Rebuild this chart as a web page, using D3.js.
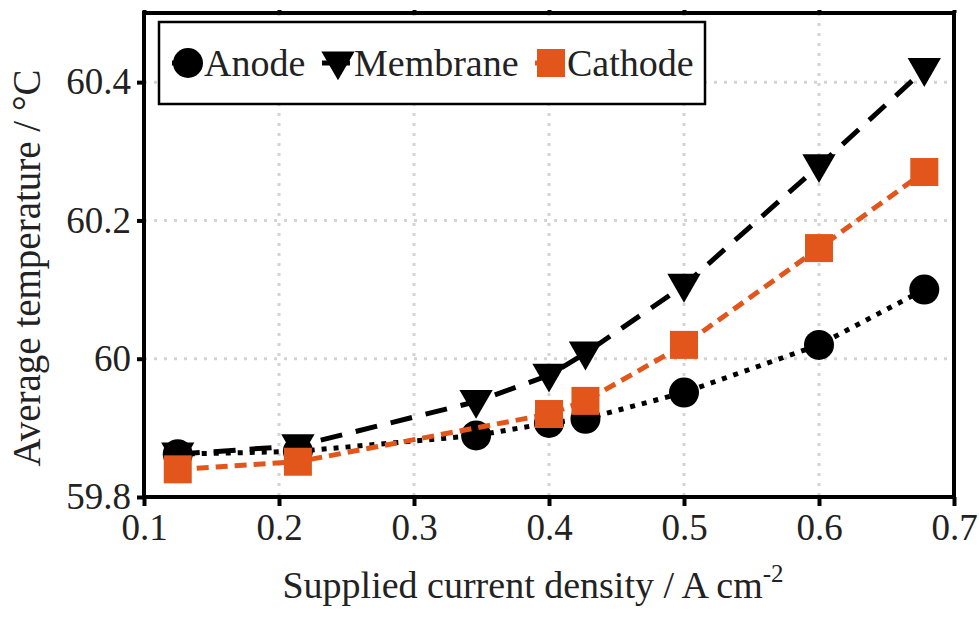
<!DOCTYPE html>
<html>
<head>
<meta charset="utf-8">
<script src="https://cdn.jsdelivr.net/npm/d3@7"></script>
<style>
  body { margin: 0; background: #fff; }
  text { font-family: "Liberation Serif", "Times New Roman", serif; fill: #222; }
</style>
</head>
<body>
<div id="chart"></div>
<script>
// data
var anodeX = [0.125, 0.214, 0.346, 0.400, 0.427, 0.500, 0.600, 0.678];
var anodeY = [59.862, 59.866, 59.889, 59.907, 59.913, 59.951, 60.020, 60.100];
var membraneX = [0.125, 0.214, 0.346, 0.400, 0.427, 0.500, 0.600, 0.678];
var membraneY = [59.862, 59.874, 59.938, 59.976, 60.008, 60.106, 60.279, 60.418];
var cathodeX = [0.125, 0.214, 0.400, 0.427, 0.500, 0.600, 0.678];
var cathodeY = [59.840, 59.851, 59.920, 59.939, 60.020, 60.160, 60.270];
var xTicks = [0.1, 0.2, 0.3, 0.4, 0.5, 0.6, 0.7];
var yTicks = [59.8, 60, 60.2, 60.4];
var orange = "#e2561c";

var width = 979, height = 617;
var plotL = 144, plotR = 954, plotT = 13, plotB = 497;

var svg = d3.select("#chart").append("svg")
    .attr("width", width)
    .attr("height", height);

var x = d3.scaleLinear().domain([0.1, 0.7]).range([plotL, plotR]);
var y = d3.scaleLinear().domain([59.8, 60.5]).range([plotB, plotT]);

// grid
svg.append("g").selectAll("line")
    .data(xTicks.slice(1, -1))
    .enter().append("line")
    .attr("x1", d => x(d)).attr("x2", d => x(d))
    .attr("y1", plotT).attr("y2", plotB)
    .attr("stroke", "#d4d4d4").attr("stroke-width", 3)
    .attr("stroke-dasharray", "3,7");
svg.append("g").selectAll("line")
    .data(yTicks.slice(1))
    .enter().append("line")
    .attr("x1", plotL).attr("x2", plotR)
    .attr("y1", d => y(d)).attr("y2", d => y(d))
    .attr("stroke", "#d4d4d4").attr("stroke-width", 3)
    .attr("stroke-dasharray", "3,7");

// axes
var xAxis = svg.append("g")
    .attr("transform", "translate(0," + plotB + ")")
    .call(d3.axisBottom(x).tickValues(xTicks).tickSize(9).tickPadding(8).tickFormat(d3.format(".1f")));
var yAxis = svg.append("g")
    .attr("transform", "translate(" + plotL + ",0)")
    .call(d3.axisLeft(y).tickValues(yTicks).tickSize(7).tickPadding(6).tickFormat(d => d === 60 ? "60" : d3.format(".1f")(d)));
svg.append("g")
    .attr("transform", "translate(0," + plotT + ")")
    .call(d3.axisTop(x).tickValues(xTicks).tickSize(3).tickFormat(""));
[xAxis, yAxis].forEach(function(a) {
    a.selectAll(".tick text").attr("font-size", 37).attr("font-family", "Liberation Serif").attr("fill", "#222");
});
svg.selectAll(".domain").remove();
svg.selectAll(".tick line").attr("stroke", "#000").attr("stroke-width", 4);

// frame
svg.append("rect")
    .attr("x", plotL).attr("y", plotT)
    .attr("width", plotR - plotL).attr("height", plotB - plotT)
    .attr("fill", "none").attr("stroke", "#000").attr("stroke-width", 4);

// axis titles
svg.append("text")
    .attr("x", 533).attr("y", 598)
    .attr("text-anchor", "middle")
    .attr("font-size", 38)
    .html('Supplied current density / A cm<tspan dy="-16" font-size="25">-2</tspan>');
svg.append("text")
    .attr("transform", "translate(40,268) rotate(-90)")
    .attr("text-anchor", "middle")
    .attr("font-size", 39)
    .text("Average temperature / °C");

// series
var series = [
    { name: "Anode", xs: anodeX, ys: anodeY, color: "#000", dash: "5,7", shape: "circle" },
    { name: "Membrane", xs: membraneX, ys: membraneY, color: "#000", dash: "22,14", shape: "triangle" },
    { name: "Cathode", xs: cathodeX, ys: cathodeY, color: orange, dash: "12,7", shape: "square" }
];

var line = d3.line().x(d => x(d[0])).y(d => y(d[1]));

function marker(g, s, cx, cy) {
    if (s.shape === "triangle") {
        g.append("path")
            .attr("d", d3.symbol().type(d3.symbolTriangle).size(480))
            .attr("transform", "translate(" + cx + "," + (cy - 2) + ") rotate(180)")
            .attr("fill", s.color);
    } else if (s.shape === "circle") {
        g.append("circle").attr("cx", cx).attr("cy", cy).attr("r", 15).attr("fill", s.color);
    } else {
        g.append("rect").attr("x", cx - 14).attr("y", cy - 14)
            .attr("width", 28).attr("height", 28).attr("fill", s.color);
    }
}

series.forEach(function(s) {
    var pts = s.xs.map((v, i) => [v, s.ys[i]]);
    var g = svg.append("g");
    g.append("path")
        .attr("d", line(pts))
        .attr("fill", "none")
        .attr("stroke", s.color)
        .attr("stroke-width", 5)
        .attr("stroke-dasharray", s.dash);
    pts.forEach(p => marker(g, s, x(p[0]), y(p[1])));
});

// legend
var leg = svg.append("g");
leg.append("rect")
    .attr("x", 159).attr("y", 22).attr("width", 546).attr("height", 82)
    .attr("fill", "#fff").attr("stroke", "#000").attr("stroke-width", 2.5);
var legX = [188, 338, 551];
series.forEach(function(s, i) {
    var cx = legX[i], cy = 63;
    leg.append("line")
        .attr("x1", cx - 16).attr("x2", cx + 12)
        .attr("y1", cy).attr("y2", cy)
        .attr("stroke", s.color).attr("stroke-width", 5);
    marker(leg, s, cx, cy);
    leg.append("text")
        .attr("x", cx + 16).attr("y", cy + 13)
        .attr("font-size", 38)
        .text(s.name);
});
</script>
</body>
</html>
